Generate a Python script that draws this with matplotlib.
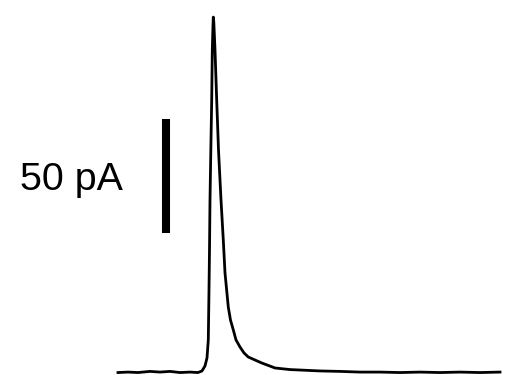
import matplotlib
matplotlib.use("Agg")
import matplotlib.pyplot as plt

# Recorded current trace (time in ms, current in pA)
time_ms = [0, 1, 2, 3.2, 4.2, 5.2, 6.2, 7.2, 8.0, 8.4, 8.7, 8.9, 9.03, 9.1, 9.15,
           9.2, 9.3, 9.37, 9.43, 9.5, 9.53, 9.58, 9.7, 9.87, 10.05, 10.3, 10.53, 10.7,
           11.03, 11.25, 11.53, 11.8, 12.2, 12.6, 13.03, 14.37, 15.7, 17.2,
           18.2, 20.2, 22.2, 24.2, 26.2, 28.2, 30.2, 32.2, 34.2, 36.2, 38.2]
current_pA = [0.2, 0.4, 0.2, 0.7, 0.4, 0.7, 0.2, 0.4, 0.2, 0.9, 3.1, 6.6, 14.5, 36.4, 53.9,
              75.9, 102.2, 119.7, 141.7, 152.6, 156.1, 153.9, 141.7, 119.7, 97.8, 75.9, 58.3, 43.9,
              28.9, 23.2, 18.9, 14.5, 11.4, 8.8, 7.0, 4.4, 2.2, 1.5,
              1.3, 0.9, 0.7, 0.4, 0.4, 0.2, 0.4, 0.2, 0.4, 0.2, 0.4]

# Scale bar
scalebar_value = 50  # pA
scalebar_label = "50 pA"
scalebar_x = 4.8
scalebar_y0 = 61.4

fig = plt.figure(figsize=(5.1, 3.75), dpi=100)
ax = fig.add_axes([0, 0, 1, 1])
ax.plot(time_ms, current_pA, color="black", lw=2.0, solid_joinstyle="round")
ax.plot([scalebar_x, scalebar_x], [scalebar_y0, scalebar_y0 + scalebar_value],
        color="black", lw=5.8, solid_capstyle="butt")
ax.text(-9.8, 80.3, scalebar_label, fontsize=28.4, family="Liberation Sans",
        ha="left", va="baseline")
ax.set_xlim(-11.8, 39.2)
ax.set_ylim(-0.88, 163.6)
ax.axis("off")
fig.savefig("out.png", dpi=100)
